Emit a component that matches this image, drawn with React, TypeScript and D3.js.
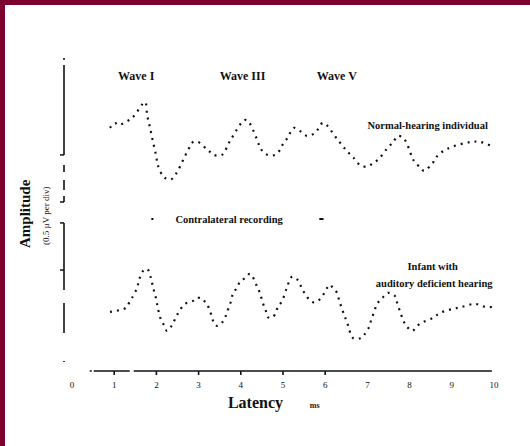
import React from "react";
import * as d3 from "d3";

// ---- data ----
const latencyTicks = [0, 1, 2, 3, 4, 5, 6, 7, 8, 9, 10];
const tickedLatencies = [1, 2, 3, 4, 5, 6];
const amplitudeTicks = [5.45, 4.21, 3.66, 2.42];

const latencyTop = [0.9, 1.02, 1.09, 1.42, 1.73, 1.78, 1.85, 1.92, 1.99, 2.04, 2.16, 2.25, 2.37, 2.73, 2.87, 2.99, 3.18, 3.27, 3.36, 3.55, 3.77, 4.12, 4.38, 4.45, 4.53, 4.64, 4.81, 4.93, 5.0, 5.09, 5.17, 5.26, 5.4, 5.57, 5.76, 5.95, 6.28, 6.47, 6.56, 6.66, 6.85, 7.04, 7.13, 7.25, 7.46, 7.61, 7.73, 7.87, 8.06, 8.13, 8.25, 8.34, 8.55, 8.63, 8.89, 9.45, 9.69, 9.98];
const amplitudeTop = [6.16, 6.29, 6.24, 6.42, 6.84, 6.5, 6.16, 5.79, 5.45, 5.16, 4.89, 4.82, 4.82, 5.53, 5.79, 5.79, 5.61, 5.53, 5.45, 5.45, 5.87, 6.37, 5.87, 5.66, 5.53, 5.45, 5.45, 5.58, 5.74, 5.87, 6.03, 6.16, 6.08, 5.95, 6.03, 6.29, 5.87, 5.61, 5.5, 5.39, 5.16, 5.16, 5.24, 5.32, 5.61, 5.79, 5.95, 5.87, 5.39, 5.24, 5.13, 5.03, 5.24, 5.39, 5.61, 5.79, 5.79, 5.66];

const latencyBottom = [0.9, 1.21, 1.3, 1.35, 1.42, 1.54, 1.59, 1.68, 1.78, 1.87, 1.92, 1.99, 2.04, 2.11, 2.18, 2.25, 2.37, 2.49, 2.68, 2.87, 2.94, 3.06, 3.13, 3.2, 3.25, 3.32, 3.36, 3.44, 3.55, 3.63, 3.7, 3.77, 3.82, 3.91, 3.98, 4.1, 4.22, 4.38, 4.45, 4.53, 4.6, 4.64, 4.76, 4.83, 4.88, 4.98, 5.09, 5.21, 5.33, 5.4, 5.47, 5.57, 5.69, 5.78, 5.9, 6.11, 6.18, 6.28, 6.33, 6.4, 6.47, 6.54, 6.66, 6.85, 6.92, 7.04, 7.09, 7.16, 7.23, 7.35, 7.49, 7.65, 7.7, 7.8, 7.91, 8.06, 8.2, 8.32, 8.55, 8.72, 9.0, 9.24, 9.55, 9.79, 10.0];
const amplitudeBottom = [1.32, 1.39, 1.45, 1.55, 1.68, 1.95, 2.16, 2.39, 2.45, 2.21, 1.97, 1.68, 1.39, 1.11, 0.97, 0.82, 0.97, 1.24, 1.53, 1.61, 1.68, 1.68, 1.61, 1.53, 1.39, 1.18, 1.03, 0.95, 1.03, 1.18, 1.39, 1.61, 1.82, 1.95, 2.11, 2.21, 2.32, 2.0, 1.82, 1.53, 1.32, 1.18, 1.18, 1.32, 1.45, 1.61, 1.95, 2.24, 2.18, 2.05, 1.89, 1.71, 1.58, 1.58, 1.68, 2.03, 1.95, 1.82, 1.63, 1.39, 1.18, 0.97, 0.63, 0.63, 0.71, 0.92, 1.11, 1.32, 1.53, 1.68, 1.82, 1.74, 1.58, 1.24, 0.97, 0.82, 0.97, 1.05, 1.16, 1.29, 1.39, 1.45, 1.53, 1.45, 1.45];

const waveLabels = ["Wave I", "Wave III", "Wave V"];
const waveLabelLatency = [1.09, 3.5, 5.8];
const traceLabelTop = "Normal-hearing individual";
const traceLabelBottom = ["Infant with", "auditory deficient hearing"];
const middleLabel = "Contralateral recording";
const xLabel = "Latency";
const xUnit = "ms";
const yLabel = "Amplitude";
const yUnit = "(0.5 \u00b5V per div)";

const W = 530;
const H = 446;
const serif = "'Liberation Serif', 'DejaVu Serif', serif";
const ink = "#111";

export default function App() {
  const x = d3.scaleLinear().domain([0, 10]).range([72, 494]);
  const y = d3.scaleLinear().domain([0, 8]).range([362, 58]);
  const axisY = 371;
  const yAxisX = 64;

  const line = d3
    .line<[number, number]>()
    .x((d) => x(d[0]))
    .y((d) => y(d[1]))
    .curve(d3.curveCatmullRom.alpha(0.5));

  const topPts = latencyTop.map((l, i) => [l, amplitudeTop[i]] as [number, number]);
  const botPts = latencyBottom.map((l, i) => [l, amplitudeBottom[i]] as [number, number]);

  return (
    <svg
      width={W}
      height={H}
      style={{ position: "absolute", left: 0, top: 0, display: "block", background: "#fff" }}
    >
      <rect x={0} y={0} width={W} height={H} fill="#fff" />
      <rect x={0} y={0} width={W} height={5} fill="#7d002f" />
      <rect x={0} y={0} width={5} height={H} fill="#7d002f" />

      {/* y axis */}
      <line
        x1={yAxisX}
        x2={yAxisX}
        y1={y(8)}
        y2={y(0)}
        stroke={ink}
        strokeWidth={1.6}
        strokeDasharray="2 5 90 10 7 8 10 6 6 21 67 13 30 28 3"
      />
      {amplitudeTicks.map((t, i) => (
        <line key={i} x1={yAxisX - 4} x2={yAxisX} y1={y(t)} y2={y(t)} stroke={ink} strokeWidth={1.5} />
      ))}

      {/* x axis */}
      <line
        x1={x(0.42)}
        x2={x(9.95)}
        y1={axisY}
        y2={axisY}
        stroke={ink}
        strokeWidth={1.6}
        strokeDasharray="2 2 36 4 400"
      />
      {tickedLatencies.map((t) => (
        <line key={t} x1={x(t)} x2={x(t)} y1={axisY} y2={axisY + 4} stroke={ink} strokeWidth={1.6} />
      ))}
      {latencyTicks.map((t) => (
        <text
          key={t}
          x={x(t)}
          y={388}
          textAnchor="middle"
          fontFamily={serif}
          fontSize={9}
          fill={ink}
        >
          {t}
        </text>
      ))}
      <text x={x(5.0)} y={408} textAnchor="end" fontFamily={serif} fontWeight="bold" fontSize={16} fill={ink}>
        {xLabel}
      </text>
      <text x={x(5.75)} y={408} textAnchor="middle" fontFamily={serif} fontWeight="bold" fontSize={8} fill={ink}>
        {xUnit}
      </text>

      {/* y labels */}
      <text
        transform={`translate(30, ${y(3.9)}) rotate(-90)`}
        textAnchor="middle"
        fontFamily={serif}
        fontWeight="bold"
        fontSize={15}
        fill={ink}
      >
        {yLabel}
      </text>
      <text
        transform={`translate(49, ${y(3.85)}) rotate(-90)`}
        textAnchor="middle"
        fontFamily={serif}
        fontSize={9}
        fill={ink}
      >
        {yUnit}
      </text>

      {/* wave labels */}
      {waveLabels.map((w, i) => (
        <text
          key={w}
          x={x(waveLabelLatency[i])}
          y={80}
          textAnchor="start"
          fontFamily={serif}
          fontWeight="bold"
          fontSize={12}
          fill={ink}
        >
          {w}
        </text>
      ))}

      {/* traces */}
      <path
        d={line(topPts) ?? ""}
        fill="none"
        stroke={ink}
        strokeWidth={2.2}
        strokeDasharray="2 5"
      />
      <path
        d={line(botPts) ?? ""}
        fill="none"
        stroke={ink}
        strokeWidth={2.2}
        strokeDasharray="2 5"
      />

      {/* trace labels */}
      <text x={x(7.0)} y={129} fontFamily={serif} fontWeight="bold" fontSize={10.5} fill={ink}>
        {traceLabelTop}
      </text>
      <text x={x(7.95)} y={270} fontFamily={serif} fontWeight="bold" fontSize={10.5} fill={ink}>
        {traceLabelBottom[0]}
      </text>
      <text x={x(7.2)} y={287} fontFamily={serif} fontWeight="bold" fontSize={10.5} fill={ink}>
        {traceLabelBottom[1]}
      </text>

      {/* middle label */}
      <line x1={x(1.88)} x2={x(1.93)} y1={219} y2={219} stroke={ink} strokeWidth={2} />
      <text x={x(2.45)} y={223} fontFamily={serif} fontWeight="bold" fontSize={10.5} fill={ink}>
        {middleLabel}
      </text>
      <line x1={x(5.86)} x2={x(5.96)} y1={219} y2={219} stroke={ink} strokeWidth={2} />
    </svg>
  );
}
